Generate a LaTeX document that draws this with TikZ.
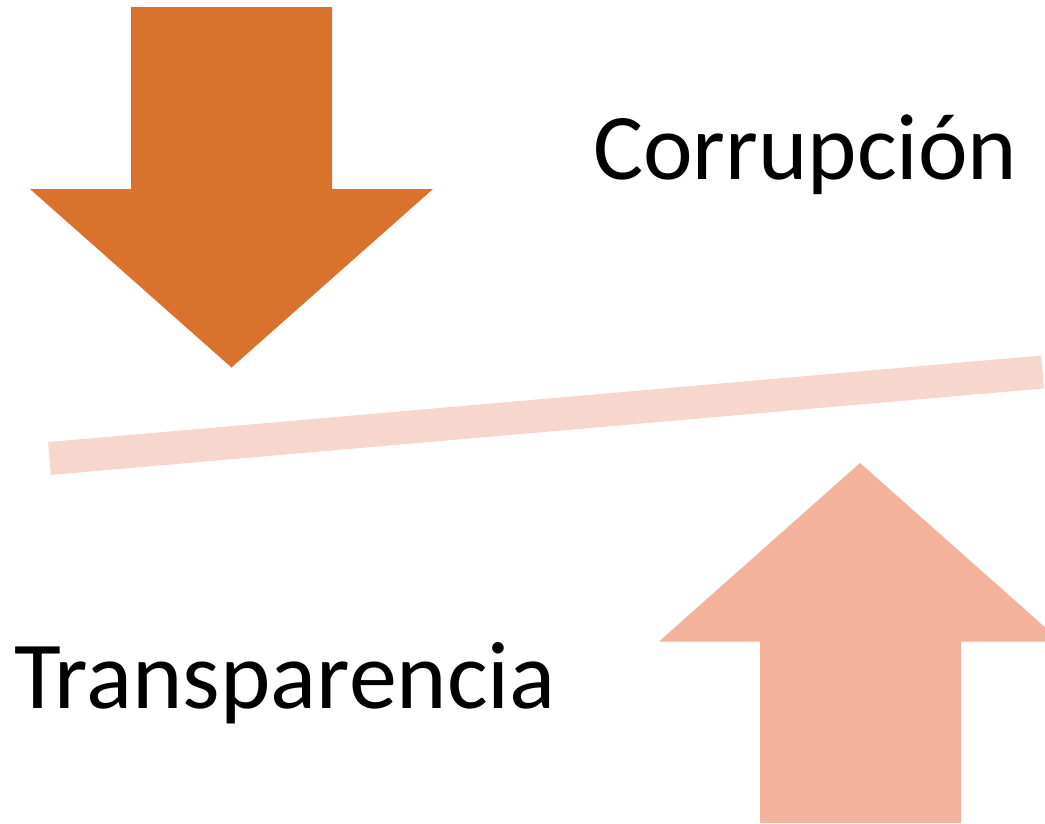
\documentclass[tikz,border=0pt]{standalone}
\usepackage{fontspec}
\setmainfont{Carlito}
\definecolor{darkorange}{HTML}{D9722D}
\definecolor{lightorange}{HTML}{F2B29B}
\definecolor{palepink}{HTML}{F7D7CD}
\begin{document}
\begin{tikzpicture}[x=1pt,y=-1pt,
  lbl/.style={inner sep=0pt,anchor=base west}]
\useasboundingbox (0,0) rectangle (1045,823);
\fill[white] (0,0) rectangle (1045,823);
% down arrow
\fill[darkorange] (131,7) -- (332,7) -- (332,189) -- (433,189) -- (231.5,367.5) -- (30,189) -- (131,189) -- cycle;
% tilted bar
\coordinate (b1) at (49.5,458.5);
\coordinate (b2) at (1042.5,372);
\draw[palepink,line width=33pt] (b1) -- (b2);
% up arrow
\begin{scope}
\clip (0,0) rectangle (1045,823);
\fill[lightorange] (760,823) -- (760,641.5) -- (659,641.5) -- (860,463) -- (1061,641.5) -- (961,641.5) -- (961,823) -- cycle;
\end{scope}
\node[lbl,font=\fontsize{94}{110}\selectfont] (c) at (593,179) {Corrupción};
\node[lbl,font=\fontsize{96}{110}\selectfont] (t) at (14,708) {Transparencia};
\end{tikzpicture}
\end{document}
